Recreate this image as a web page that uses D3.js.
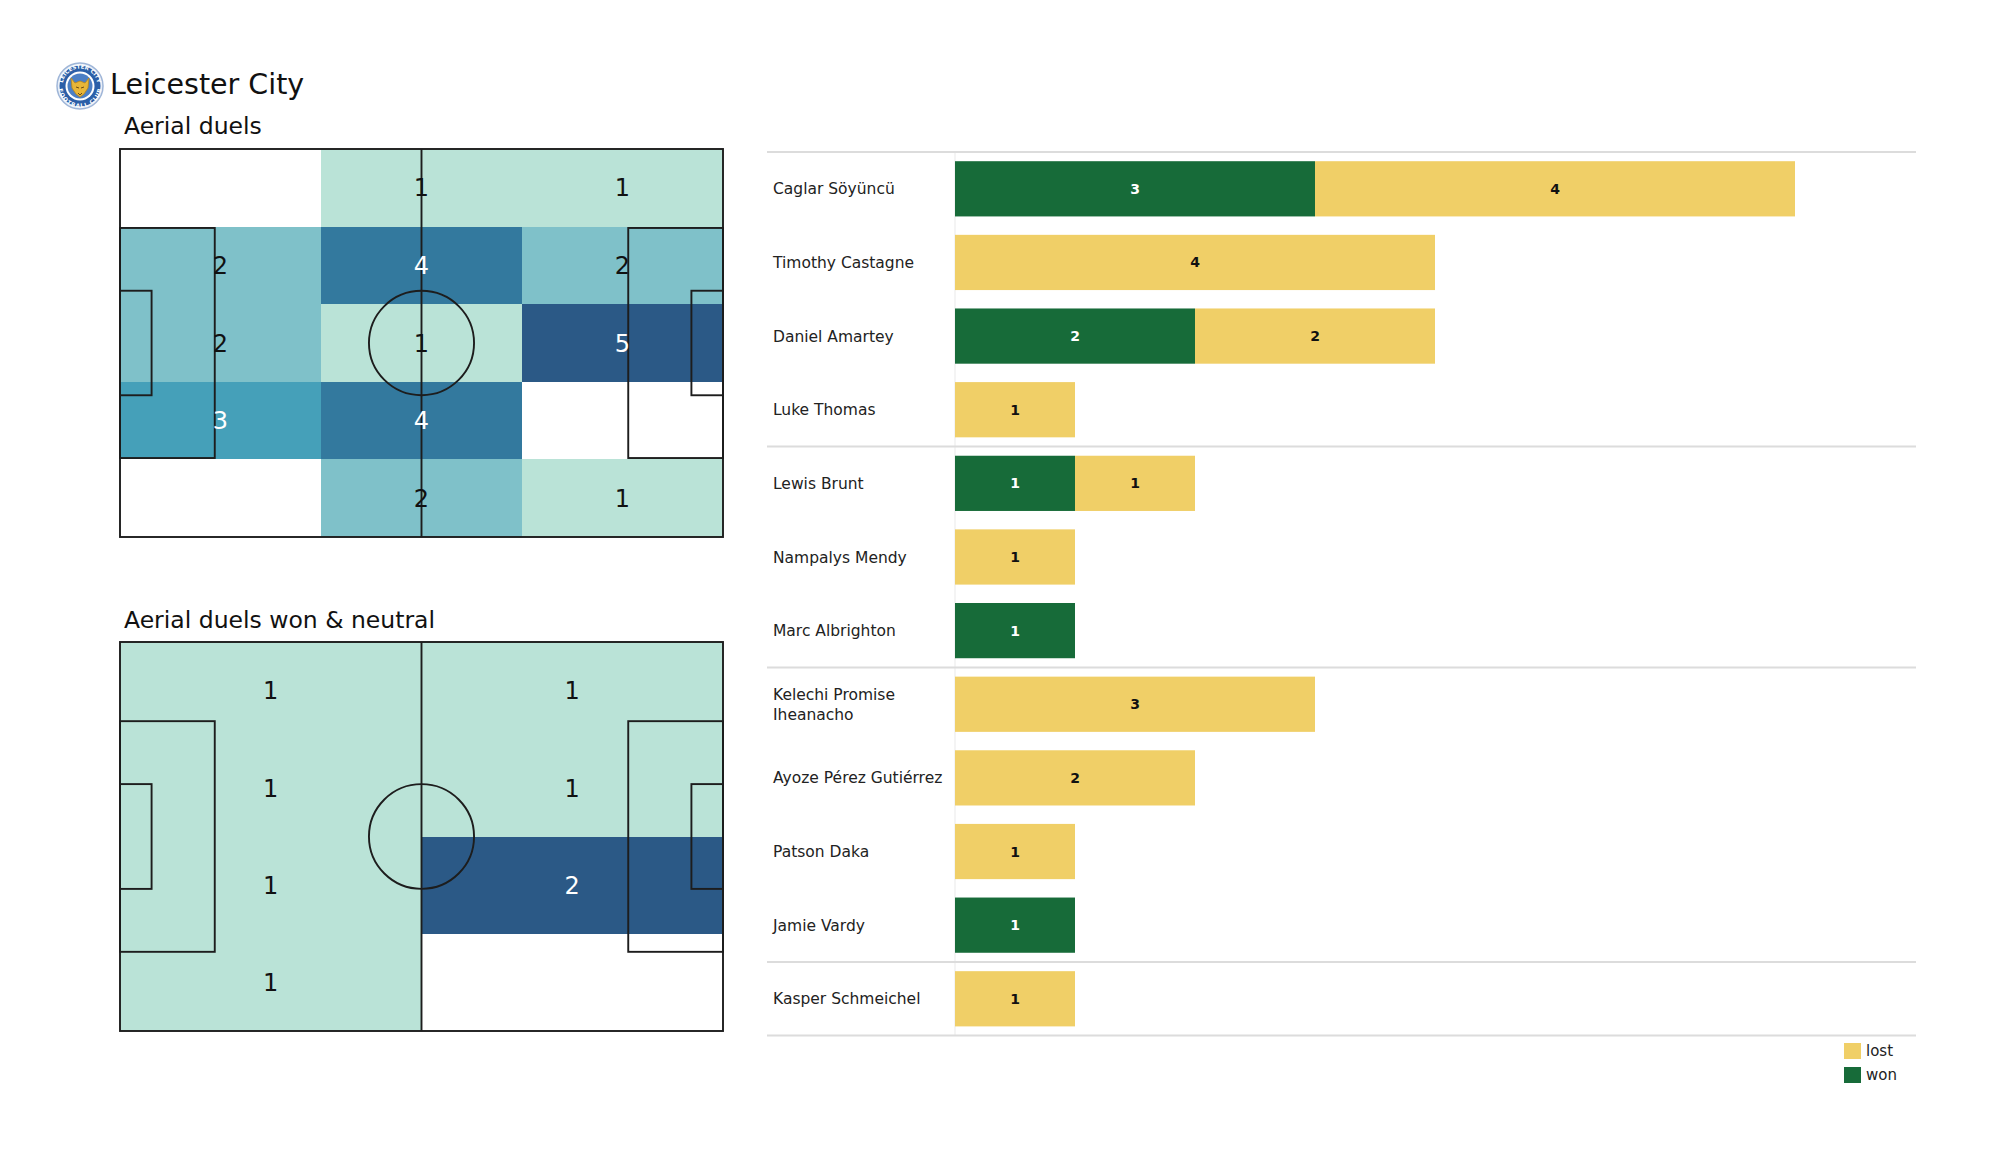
<!DOCTYPE html>
<html>
<head>
<meta charset="utf-8">
<script src="https://cdn.jsdelivr.net/npm/d3@7"></script>
<style>
  body { margin: 0; background: #ffffff; }
  svg { display: block; font-family: "DejaVu Sans", sans-serif; }
</style>
</head>
<body>
<svg id="chart" width="2000" height="1175"></svg>
<script>
// ---------------- DATA ----------------
const teamName = "Leicester City";
const title1 = "Aerial duels";
const title2 = "Aerial duels won & neutral";

// heatmap 1: 5 rows (top to bottom) x 3 columns (left to right)
const heat1 = [
  [0, 1, 1],
  [2, 4, 2],
  [2, 1, 5],
  [3, 4, 0],
  [0, 2, 1]
];
// heatmap 2: 4 rows x 2 columns
const heat2 = [
  [1, 1],
  [1, 1],
  [1, 2],
  [1, 0]
];

const players = [
  "Caglar Söyüncü", "Timothy Castagne", "Daniel Amartey", "Luke Thomas",
  "Lewis Brunt", "Nampalys Mendy", "Marc Albrighton",
  "Kelechi Promise Iheanacho", "Ayoze Pérez Gutiérrez", "Patson Daka", "Jamie Vardy",
  "Kasper Schmeichel"
];
const wonValues  = [3, 0, 2, 0, 1, 0, 1, 0, 0, 0, 1, 0];
const lostValues = [4, 4, 2, 1, 1, 1, 0, 3, 2, 1, 0, 1];
const groupEnds = [3, 6, 10, 11]; // index of last player in each position group
const seriesNames = ["lost", "won"];

// ---------------- SETUP ----------------
const svg = d3.select("#chart");
const heatStops = ["#bae3d7", "#7fc1c9", "#45a0b9", "#33799e", "#2b5986"];
const wonColor = "#176b39";
const lostColor = "#f0cf67";

// ---------------- HEADER ----------------
const logo = svg.append("g").attr("transform", "translate(80,86)");
logo.append("circle").attr("r", 23).attr("fill", "#e8eef7").attr("stroke", "#9fb6d8").attr("stroke-width", 1.5);
logo.append("circle").attr("r", 20.5).attr("fill", "#2b5fa8");
logo.append("circle").attr("r", 14.5).attr("fill", "#ffffff");
logo.append("circle").attr("r", 12.5).attr("fill", "#4c7fc4");
logo.append("path")
  .attr("d", "M-9,-8 L-5,-3 L0,-5 L5,-3 L9,-8 L8,2 L4,8 L0,11 L-4,8 L-8,2 Z")
  .attr("fill", "#e8b638").attr("stroke", "#b9861c").attr("stroke-width", 0.8);
logo.append("path").attr("d", "M-4,1 L-1,2 M4,1 L1,2 M-2,7 L0,9 L2,7")
  .attr("stroke", "#6b4a10").attr("stroke-width", 1).attr("fill", "none");
const ringR = 17.5;
logo.append("path").attr("id", "ringTop")
  .attr("d", `M${-ringR},0 A${ringR},${ringR} 0 0,1 ${ringR},0`).attr("fill", "none");
logo.append("path").attr("id", "ringBot")
  .attr("d", `M${-ringR},0 A${ringR},${ringR} 0 0,0 ${ringR},0`).attr("fill", "none");
logo.append("text").attr("font-size", 5.5).attr("fill", "#ffffff").attr("font-weight", "bold")
  .append("textPath").attr("href", "#ringTop").attr("startOffset", "50%").attr("text-anchor", "middle")
  .text("LEICESTER CITY");
logo.append("text").attr("font-size", 5.5).attr("fill", "#ffffff").attr("font-weight", "bold").attr("dy", 4)
  .append("textPath").attr("href", "#ringBot").attr("startOffset", "50%").attr("text-anchor", "middle")
  .text("FOOTBALL CLUB");

svg.append("text").attr("x", 110).attr("y", 94).attr("font-size", 28.5).attr("fill", "#111").text(teamName);

// ---------------- PITCHES ----------------
function drawPitch(g, x, y) {
  const line = (x1, y1, x2, y2) => g.append("line")
    .attr("x1", x(x1)).attr("y1", y(y1)).attr("x2", x(x2)).attr("y2", y(y2));
  g.attr("stroke", "#1d1d1d").attr("stroke-width", 1.9).attr("fill", "none");
  g.append("rect").attr("x", x(0)).attr("y", y(0)).attr("width", x(105) - x(0)).attr("height", y(68) - y(0));
  line(52.5, 0, 52.5, 68);
  g.append("ellipse").attr("cx", x(52.5)).attr("cy", y(34))
    .attr("rx", x(9.15) - x(0)).attr("ry", y(9.15) - y(0));
  // penalty areas
  g.append("rect").attr("x", x(0)).attr("y", y(13.84)).attr("width", x(16.5) - x(0)).attr("height", y(54.16) - y(13.84));
  g.append("rect").attr("x", x(88.5)).attr("y", y(13.84)).attr("width", x(105) - x(88.5)).attr("height", y(54.16) - y(13.84));
  // goal areas
  g.append("rect").attr("x", x(0)).attr("y", y(24.84)).attr("width", x(5.5) - x(0)).attr("height", y(43.16) - y(24.84));
  g.append("rect").attr("x", x(99.5)).attr("y", y(24.84)).attr("width", x(105) - x(99.5)).attr("height", y(43.16) - y(24.84));
}

function drawHeat(data, box, titleText, titleY) {
  const nRows = data.length, nCols = data[0].length;
  const x = d3.scaleLinear().domain([0, 105]).range([box.x0, box.x1]);
  const y = d3.scaleLinear().domain([0, 68]).range([box.y0, box.y1]);
  const cx = d3.scaleLinear().domain([0, nCols]).range([box.x0, box.x1]);
  const cy = d3.scaleLinear().domain([0, nRows]).range([box.y0, box.y1]);
  const cells = [];
  data.forEach((row, r) => row.forEach((v, c) => cells.push({ r, c, v })));
  const nz = cells.filter(d => d.v > 0).map(d => d.v);
  const vmin = d3.min(nz), vmax = d3.max(nz);
  const frac = d3.scaleLinear().domain([vmin, vmax]).range([0, 1]);
  const color = d3.scaleLinear().domain(d3.range(heatStops.length).map(i => i / (heatStops.length - 1)))
    .range(heatStops).interpolate(d3.interpolateRgb);

  svg.append("text").attr("x", 124).attr("y", titleY).attr("font-size", 23.5).attr("fill", "#111").text(titleText);

  const g = svg.append("g").attr("shape-rendering", "crispEdges");
  g.selectAll("rect.cell").data(cells.filter(d => d.v > 0)).join("rect").attr("class", "cell")
    .attr("x", d => cx(d.c)).attr("y", d => cy(d.r))
    .attr("width", d => cx(d.c + 1) - cx(d.c)).attr("height", d => cy(d.r + 1) - cy(d.r))
    .attr("fill", d => color(frac(d.v)));

  drawPitch(svg.append("g"), x, y);

  svg.append("g").selectAll("text").data(cells.filter(d => d.v > 0)).join("text")
    .attr("x", d => (cx(d.c) + cx(d.c + 1)) / 2)
    .attr("y", d => (cy(d.r) + cy(d.r + 1)) / 2)
    .attr("dy", "0.36em").attr("text-anchor", "middle").attr("font-size", 24)
    .attr("fill", d => frac(d.v) >= 0.5 ? "#ffffff" : "#111111")
    .text(d => d.v);
}

drawHeat(heat1, { x0: 120, x1: 723, y0: 149, y1: 537 }, title1, 134);
drawHeat(heat2, { x0: 120, x1: 723, y0: 642, y1: 1031 }, title2, 628);

// ---------------- BAR CHART ----------------
const y = d3.scaleBand().domain(players).range([152, 1035.6]).paddingInner(0.25).paddingOuter(0.125);
const x = d3.scaleLinear().domain([0, 7]).range([955, 1795]);
const lineX0 = 767, lineX1 = 1916;

const bars = svg.append("g");
bars.append("line").attr("x1", x(0)).attr("x2", x(0)).attr("y1", 152).attr("y2", 1035)
  .attr("stroke", "#f1f1f1").attr("stroke-width", 1.5);

const sepYs = [y.range()[0]].concat(groupEnds.map(i => y(players[i]) + y.bandwidth() + y.step() * y.paddingInner() / 2));
bars.selectAll("line.sep").data(sepYs).join("line").attr("class", "sep")
  .attr("x1", lineX0).attr("x2", lineX1).attr("y1", d => d).attr("y2", d => d)
  .attr("stroke", "#dcdcdc").attr("stroke-width", 2);

const rows = players.map((p, i) => ({ p, won: wonValues[i], lost: lostValues[i] }));

bars.selectAll("rect.won").data(rows.filter(d => d.won > 0)).join("rect").attr("class", "won")
  .attr("x", x(0)).attr("y", d => y(d.p)).attr("width", d => x(d.won) - x(0)).attr("height", y.bandwidth())
  .attr("fill", wonColor);
bars.selectAll("rect.lost").data(rows.filter(d => d.lost > 0)).join("rect").attr("class", "lost")
  .attr("x", d => x(d.won)).attr("y", d => y(d.p)).attr("width", d => x(d.won + d.lost) - x(d.won)).attr("height", y.bandwidth())
  .attr("fill", lostColor);

bars.selectAll("text.wonl").data(rows.filter(d => d.won > 0)).join("text").attr("class", "wonl")
  .attr("x", d => (x(0) + x(d.won)) / 2).attr("y", d => y(d.p) + y.bandwidth() / 2).attr("dy", "0.36em")
  .attr("text-anchor", "middle").attr("font-size", 14).attr("font-weight", "bold").attr("fill", "#ffffff")
  .text(d => d.won);
bars.selectAll("text.lostl").data(rows.filter(d => d.lost > 0)).join("text").attr("class", "lostl")
  .attr("x", d => (x(d.won) + x(d.won + d.lost)) / 2).attr("y", d => y(d.p) + y.bandwidth() / 2).attr("dy", "0.36em")
  .attr("text-anchor", "middle").attr("font-size", 14).attr("font-weight", "bold").attr("fill", "#111111")
  .text(d => d.lost);

const labels = bars.selectAll("text.name").data(players).join("text").attr("class", "name")
  .attr("x", 773).attr("font-size", 15.5).attr("fill", "#222");
labels.each(function (p) {
  const t = d3.select(this);
  const cy = y(p) + y.bandwidth() / 2;
  const parts = p === "Kelechi Promise Iheanacho" ? ["Kelechi Promise", "Iheanacho"] : [p];
  const lh = 20.5;
  parts.forEach((s, i) => {
    t.append("tspan").attr("x", 773)
      .attr("y", cy + (i - (parts.length - 1) / 2) * lh).attr("dy", "0.36em").text(s);
  });
});

// legend
const legend = svg.append("g");
const legColors = { lost: lostColor, won: wonColor };
seriesNames.forEach((s, i) => {
  legend.append("rect").attr("x", 1844).attr("y", 1043 + i * 24).attr("width", 17).attr("height", 16).attr("fill", legColors[s]);
  legend.append("text").attr("x", 1866).attr("y", 1051 + i * 24).attr("dy", "0.36em")
    .attr("font-size", 15).attr("fill", "#222").text(s);
});
</script>
</body>
</html>
